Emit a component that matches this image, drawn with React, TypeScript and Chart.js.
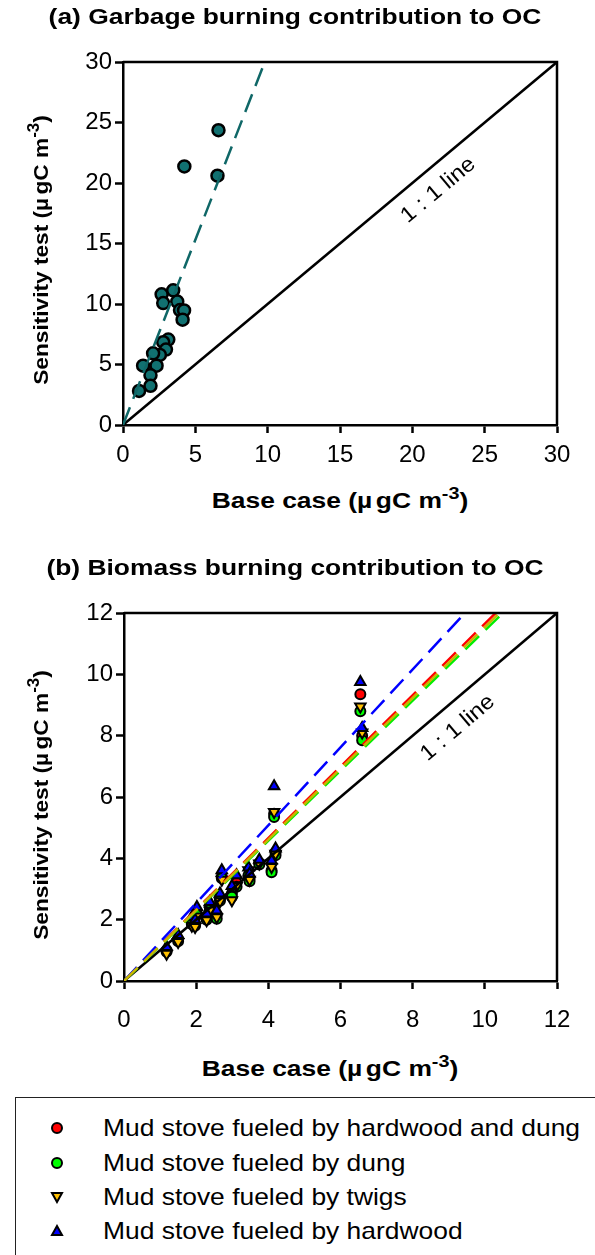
import React, { useEffect, useRef } from "react";
import { Chart, registerables } from "chart.js";
Chart.register(...registerables);

// ---------- Panel (a): garbage burning ----------
const garbageBase = [6.6, 4.24, 6.53, 2.67, 2.78, 3.47, 3.75, 3.94, 4.22, 4.12, 3.13, 2.78, 2.97, 2.55, 2.08, 2.32, 1.39, 1.9, 1.9, 1.11];
const garbageTest = [24.36, 21.37, 20.6, 10.8, 10.08, 11.13, 10.2, 9.5, 9.47, 8.7, 7.06, 6.84, 6.23, 5.79, 5.92, 4.9, 4.9, 4.12, 3.24, 2.82];
const garbageTrendX = [0, 9.8];
const garbageTrendY = [0, 30];
const oneToOneA = [0, 30];
const ticksA = [0, 5, 10, 15, 20, 25, 30];

// ---------- Panel (b): biomass burning ----------
const biomassBase = [1.18, 1.5, 1.88, 1.97, 2.02, 2.29, 2.38, 2.57, 2.66, 2.71, 2.99, 3.12, 3.45, 3.48, 3.75, 4.09, 4.16, 4.2, 6.55, 6.6];
const hardwoodDung = [1.0, 1.35, 1.9, 1.85, 2.2, 2.05, 2.4, 2.15, 2.7, 3.4, 2.85, 3.2, 3.4, 3.34, 3.85, 3.6, 5.45, 4.2, 9.35, 8.0];
const dung = [0.95, 1.3, 1.85, 1.8, 2.15, 2.0, 2.32, 2.03, 2.62, 3.35, 2.75, 3.07, 3.45, 3.25, 3.8, 3.55, 5.35, 4.1, 8.8, 7.85];
const twigs = [0.89, 1.27, 1.8, 1.76, 2.1, 1.98, 2.3, 2.08, 2.6, 3.3, 2.63, 3.1, 3.61, 3.3, 3.83, 3.72, 5.51, 4.15, 8.95, 8.1];
const hardwood = [1.11, 1.5, 2.09, 2.0, 2.41, 2.2, 2.58, 2.3, 2.85, 3.61, 3.1, 3.45, 3.7, 3.5, 3.95, 3.93, 6.35, 4.32, 9.75, 8.25];
// dashed regression lines (end points), order: hardwood+dung, dung, twigs, hardwood
const trendEndX = [10.3, 10.5, 10.4, 9.45];
const trendEndY = [12, 12, 12, 12];
const oneToOneB = [0, 12];
const ticksB = [0, 2, 4, 6, 8, 10, 12];

const legendLabels = [
  "Mud stove fueled by hardwood and dung",
  "Mud stove fueled by dung",
  "Mud stove fueled by twigs",
  "Mud stove fueled by hardwood",
];

const FONT = '"Liberation Sans", Arial, sans-serif';

const pts = (xs: number[], ys: number[]) => xs.map((x, i) => ({ x, y: ys[i] }));

const framePlugin = {
  id: "frame",
  afterDatasetsDraw(chart: any, _args: any, opts: any) {
    const { ctx, chartArea: a } = chart;
    ctx.save();
    ctx.strokeStyle = "#000";
    ctx.lineWidth = 2.5;
    ctx.beginPath();
    ctx.moveTo(a.left, a.top);
    ctx.lineTo(a.right, a.top);
    ctx.lineTo(a.right, a.bottom);
    ctx.stroke();
    const xs = chart.scales.x;
    const ys = chart.scales.y;
    const px = xs.getPixelForValue(opts.lx);
    const py = ys.getPixelForValue(opts.ly);
    const ang = Math.atan2(
      ys.getPixelForValue(opts.max) - ys.getPixelForValue(0),
      xs.getPixelForValue(opts.max) - xs.getPixelForValue(0)
    );
    ctx.translate(px, py);
    ctx.rotate(ang);
    ctx.scale(1.08, 1);
    ctx.fillStyle = "#000";
    ctx.font = `22px ${FONT}`;
    ctx.textAlign = "center";
    ctx.textBaseline = "middle";
    ctx.fillText(opts.text, 0, 0);
    ctx.restore();
  },
};

function axis(min: number, max: number, ticks: number[], fitKey: "width" | "height", fitVal: number, pad: number) {
  return {
    type: "linear",
    min,
    max,
    afterBuildTicks: (s: any) => {
      s.ticks = ticks.map((v) => ({ value: v }));
    },
    afterFit: (s: any) => {
      s[fitKey] = fitVal;
    },
    border: { color: "#000", width: 2.5 },
    grid: { drawOnChartArea: false, drawTicks: true, tickLength: 8, tickColor: "#000", tickWidth: 2.5 },
    ticks: { color: "#000", font: { size: 24, family: FONT }, padding: pad },
  };
}

function PanelA() {
  const ref = useRef<HTMLCanvasElement>(null);
  useEffect(() => {
    const chart = new Chart(ref.current!, {
      type: "scatter",
      data: {
        datasets: [
          {
            data: pts(garbageTrendX, garbageTrendY),
            showLine: true,
            borderColor: "#0f6767",
            borderWidth: 2.5,
            borderDash: [19, 9],
            pointRadius: 0,
            order: 0,
          },
          {
            data: pts(oneToOneA, oneToOneA),
            showLine: true,
            borderColor: "#000",
            borderWidth: 2.5,
            pointRadius: 0,
            order: 1,
          },
          {
            data: pts(garbageBase, garbageTest),
            pointRadius: 6,
            pointBorderWidth: 2.5,
            pointBackgroundColor: "#117171",
            pointBorderColor: "#000",
            order: 2,
          },
        ],
      } as any,
      options: {
        animation: false,
        responsive: false,
        layout: { padding: { top: 62, right: 38, left: 0, bottom: 0 } },
        plugins: {
          legend: { display: false },
          tooltip: { enabled: false },
          frame: { lx: 21.8, ly: 19.4, max: 30, text: "1 : 1 line" },
        } as any,
        scales: {
          x: axis(0, 30, ticksA, "height", 55, 8),
          y: axis(0, 30, ticksA, "width", 123, 3),
        } as any,
      },
      plugins: [framePlugin],
    });
    return () => chart.destroy();
  }, []);
  return <canvas ref={ref} width={595} height={480} style={{ position: "absolute", left: 0, top: 0 }} />;
}

function PanelB() {
  const ref = useRef<HTMLCanvasElement>(null);
  useEffect(() => {
    const series = [
      { y: hardwoodDung, color: "#ff0000", style: "circle", rot: 0, r: 5, line: "#ff0000", lo: 2, po: 8 },
      { y: dung, color: "#00ff00", style: "circle", rot: 0, r: 5, line: "#00ee00", lo: 1, po: 7 },
      { y: twigs, color: "#ffc000", style: "triangle", rot: 180, r: 6, line: "#c8b400", lo: 0, po: 6 },
      { y: hardwood, color: "#0000ff", style: "triangle", rot: 0, r: 6, line: "#0000ff", lo: 0, po: 5 },
    ];
    const datasets: any[] = [];
    series.forEach((s, i) => {
      datasets.push({
        data: pts(biomassBase, s.y),
        pointStyle: s.style,
        rotation: s.rot,
        pointRadius: s.r,
        pointBorderWidth: 2,
        pointBackgroundColor: s.color,
        pointBorderColor: "#000",
        order: s.po,
      });
      datasets.push({
        data: pts([0, trendEndX[i]], [0, trendEndY[i]]),
        showLine: true,
        borderColor: s.line,
        borderWidth: 2.5,
        borderDash: [19, 9],
        pointRadius: 0,
        order: s.lo,
      });
    });
    datasets.push({
      data: pts(oneToOneB, oneToOneB),
      showLine: true,
      borderColor: "#000",
      borderWidth: 2.5,
      pointRadius: 0,
      order: 3,
    });
    const chart = new Chart(ref.current!, {
      type: "scatter",
      data: { datasets },
      options: {
        animation: false,
        responsive: false,
        layout: { padding: { top: 73, right: 38, left: 0, bottom: 0 } },
        plugins: {
          legend: { display: false },
          tooltip: { enabled: false },
          frame: { lx: 9.25, ly: 8.25, max: 12, text: "1 : 1 line" },
        } as any,
        scales: {
          x: axis(0, 12, ticksB, "height", 59, 17),
          y: axis(0, 12, ticksB, "width", 124, 3),
        } as any,
      },
      plugins: [framePlugin],
    });
    return () => chart.destroy();
  }, []);
  return <canvas ref={ref} width={595} height={500} style={{ position: "absolute", left: 0, top: 540 }} />;
}

function Label(props: { cx: number; cy: number; rot?: number; sx?: number; size?: number; bold?: boolean; children: any }) {
  const { cx, cy, rot = 0, sx = 1.18, size = 21, bold = true } = props;
  return (
    <div
      style={{
        position: "absolute",
        left: cx,
        top: cy,
        whiteSpace: "nowrap",
        fontFamily: FONT,
        fontSize: size,
        fontWeight: bold ? "bold" : "normal",
        lineHeight: 1,
        color: "#000",
        transform: `translate(-50%,-50%) rotate(${rot}deg) scaleX(${sx})`,
      }}
    >
      {props.children}
    </div>
  );
}

const Unit = () => (
  <>
    (µ<span style={{ marginLeft: 3 }}>gC m</span>
    <sup style={{ fontSize: "0.75em", verticalAlign: "0.55em", lineHeight: 0 }}>-3</sup>)
  </>
);

function Marker({ kind }: { kind: number }) {
  if (kind === 0 || kind === 1) {
    return (
      <svg width={14} height={14}>
        <circle cx={7} cy={7} r={5} fill={kind === 0 ? "#ff0000" : "#00ff00"} stroke="#000" strokeWidth={2} />
      </svg>
    );
  }
  if (kind === 2) {
    return (
      <svg width={14} height={14}>
        <polygon points="2,3 12,3 7,12" fill="#ffc000" stroke="#000" strokeWidth={2} strokeLinejoin="miter" />
      </svg>
    );
  }
  return (
    <svg width={14} height={14}>
      <polygon points="2,11 12,11 7,2" fill="#0000ff" stroke="#000" strokeWidth={2} strokeLinejoin="miter" />
    </svg>
  );
}

export default function App() {
  const rowsY = [1128, 1163, 1197, 1231];
  return (
    <div
      style={{
        position: "absolute",
        left: 0,
        top: 0,
        width: 595,
        height: 1255,
        overflow: "hidden",
        background: "#fff",
      }}
    >
      <PanelA />
      <PanelB />
      <Label cx={295} cy={17} size={22} sx={1.2}>(a) Garbage burning contribution to OC</Label>
      <Label cx={295} cy={568} size={22} sx={1.2}>(b) Biomass burning contribution to OC</Label>
      <Label cx={340} cy={501} size={22} sx={1.2}>
        Base case <Unit />
      </Label>
      <Label cx={330} cy={1069} size={22} sx={1.2}>
        Base case <Unit />
      </Label>
      <Label cx={40} cy={250} rot={-90} size={21} sx={1.08}>
        Sensitivity test <Unit />
      </Label>
      <Label cx={40} cy={805} rot={-90} size={21} sx={1.08}>
        Sensitivity test <Unit />
      </Label>
      <div
        style={{
          position: "absolute",
          left: 15,
          top: 1097,
          width: 620,
          height: 220,
          border: "1px solid #222",
        }}
      />
      {legendLabels.map((t, i) => (
        <React.Fragment key={t}>
          <div style={{ position: "absolute", left: 50, top: rowsY[i] - 7, width: 14, height: 14, lineHeight: 0 }}>
            <Marker kind={i} />
          </div>
          <div
            style={{
              position: "absolute",
              left: 103,
              top: rowsY[i],
              whiteSpace: "nowrap",
              fontFamily: FONT,
              fontSize: 24,
              lineHeight: 1,
              transformOrigin: "0 50%",
              transform: "translateY(-50%) scaleX(1.1)",
            }}
          >
            {t}
          </div>
        </React.Fragment>
      ))}
    </div>
  );
}
